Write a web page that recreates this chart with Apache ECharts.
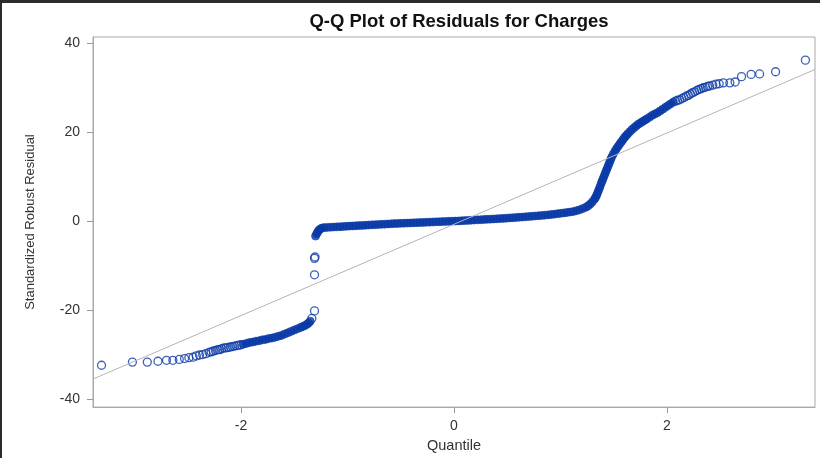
<!DOCTYPE html>
<html>
<head>
<meta charset="utf-8">
<script src="https://cdn.jsdelivr.net/npm/echarts@6/dist/echarts.min.js"></script>
<style>
  html, body { margin: 0; padding: 0; background: #fff; }
  #chart { width: 820px; height: 458px; }
</style>
</head>
<body>
<div id="chart"></div>
<script>
// ---- Data: [normal quantile, standardized robust residual] ----
const leftTail = [
  [-3.31,-32.3],[-3.02,-31.6],[-2.88,-31.6],[-2.78,-31.4],[-2.70,-31.2],[-2.64,-31.2],
  [-2.58,-31.0],[-2.53,-30.8],[-2.49,-30.6],[-2.45,-30.5],[-2.42,-30.2],[-2.39,-30.0],
  [-2.36,-29.9],[-2.33,-29.7],[-2.30,-29.4],[-2.28,-29.3],[-2.26,-29.1],[-2.24,-29.0],
  [-2.22,-28.8],[-2.20,-28.8],[-2.18,-28.6],[-2.16,-28.4],[-2.14,-28.4],[-2.12,-28.3],
  [-2.10,-28.2],[-2.08,-28.1],[-2.06,-28.0],[-2.04,-27.9],[-2.02,-27.8],[-2.00,-27.7]
];
const lowerBranch = [
  [-1.98,-27.6],[-1.95,-27.4],[-1.92,-27.2],[-1.89,-27.1],[-1.86,-26.9],[-1.83,-26.8],
  [-1.80,-26.6],[-1.77,-26.5],[-1.74,-26.3],[-1.71,-26.2],[-1.68,-26.0],[-1.65,-25.8],
  [-1.62,-25.6],[-1.59,-25.3],[-1.56,-25.0],[-1.53,-24.7],[-1.50,-24.4],[-1.47,-24.1],
  [-1.44,-23.8],[-1.42,-23.6],[-1.40,-23.4],[-1.38,-23.1],[-1.365,-22.8],[-1.35,-22.4]
];
const lowerTop = [[-1.335,-21.8],[-1.31,-20.1]];
const jumpPoints = [[-1.31,-12.0],[-1.31,-8.3],[-1.305,-8.0]];
const centerBranch = [
  [-1.30,-3.3],[-1.29,-2.8],[-1.28,-2.4],[-1.27,-2.0],[-1.255,-1.7],[-1.24,-1.5],
  [-1.22,-1.4],[-1.19,-1.35],[-1.16,-1.3],[-1.13,-1.27],[-1.10,-1.23],[-1.07,-1.2],
  [-1.04,-1.15],[-1.01,-1.1],[-0.98,-1.06],[-0.95,-1.02],[-0.92,-0.98],[-0.89,-0.94],
  [-0.86,-0.9],[-0.83,-0.86],[-0.80,-0.82],[-0.77,-0.78],[-0.74,-0.74],[-0.71,-0.7],
  [-0.68,-0.66],[-0.65,-0.62],[-0.62,-0.58],[-0.59,-0.54],[-0.56,-0.5],[-0.53,-0.47],
  [-0.50,-0.44],[-0.47,-0.41],[-0.44,-0.38],[-0.41,-0.35],[-0.38,-0.32],[-0.35,-0.29],
  [-0.32,-0.26],[-0.29,-0.23],[-0.26,-0.2],[-0.23,-0.17],[-0.20,-0.14],[-0.17,-0.11],
  [-0.14,-0.08],[-0.11,-0.05],[-0.08,-0.02],[-0.05,0.01],[-0.02,0.04],[0.01,0.07],
  [0.04,0.1],[0.07,0.14],[0.10,0.18],[0.13,0.22],[0.16,0.26],[0.19,0.3],[0.22,0.34],
  [0.25,0.38],[0.28,0.42],[0.31,0.46],[0.34,0.5],[0.37,0.54],[0.40,0.58],[0.43,0.62],
  [0.46,0.67],[0.49,0.72],[0.52,0.77],[0.55,0.82],[0.58,0.87],[0.61,0.92],[0.64,0.97],
  [0.67,1.02],[0.70,1.08],[0.73,1.14],[0.76,1.2],[0.79,1.26],[0.82,1.32],[0.85,1.39],
  [0.88,1.46],[0.91,1.54],[0.94,1.62],[0.97,1.71],[1.00,1.8],[1.03,1.9],[1.06,2.0],
  [1.09,2.1],[1.12,2.2],[1.15,2.4],[1.18,2.6],[1.21,2.9],[1.24,3.2],[1.26,3.5],
  [1.28,3.9],[1.30,4.4],[1.32,5.0]
];
const risingBranch = [
  [1.33,5.4],[1.34,5.9],[1.35,6.5],[1.36,7.1],[1.37,7.7],[1.38,8.4],[1.39,9.0],
  [1.40,9.6],[1.41,10.2],[1.42,10.8],[1.43,11.4],[1.44,12.0],[1.45,12.6],[1.46,13.2],
  [1.47,13.8],[1.48,14.4],[1.495,15.1],[1.51,15.7],[1.525,16.3],[1.54,16.8],[1.555,17.3],
  [1.57,17.8],[1.585,18.3],[1.60,18.8],[1.615,19.2],[1.63,19.6],[1.65,20.1],[1.67,20.6],
  [1.69,21.0],[1.71,21.4],[1.73,21.8],[1.75,22.1],[1.77,22.4],[1.79,22.7],[1.81,23.0],
  [1.835,23.4],[1.86,23.8],[1.885,24.1],[1.91,24.4],[1.935,24.8],[1.96,25.2],[1.985,25.6],
  [2.01,26.0],[2.035,26.4],[2.06,26.8]
];
const rightTail = [
  [2.08,27.0],[2.10,27.2],[2.12,27.3],[2.14,27.6],[2.16,27.8],[2.18,28.1],[2.20,28.3],
  [2.22,28.6],[2.24,28.9],[2.26,29.1],[2.28,29.4],[2.30,29.6],[2.32,29.8],[2.34,30.0],
  [2.36,30.1],[2.38,30.3],[2.40,30.4],[2.43,30.6],[2.46,30.8],[2.49,30.9],[2.53,31.1],
  [2.59,31.1],[2.64,31.3],[2.70,32.5],[2.79,33.0],[2.87,33.1],[3.02,33.6],[3.30,36.2]
];
const refLine = [[-3.39,-35.4],[3.39,34.1]];
const xTicks = [-2, 0, 2];
const yTicks = [-40, -20, 0, 20, 40];

// ---- Chart ----
const BLUE = '#0a39a6';
const chart = echarts.init(document.getElementById('chart'), null, { renderer: 'canvas' });
const sparse = leftTail.concat(lowerTop, jumpPoints, rightTail);
const dense = lowerBranch.concat(centerBranch, risingBranch);

chart.setOption({
  animation: false,
  backgroundColor: '#fff',
  title: {
    text: 'Q-Q Plot of Residuals for Charges',
    left: 454, top: 7, textAlign: 'center',
    textStyle: { fontFamily: 'Liberation Sans', fontWeight: 'bold', fontSize: 18.5, color: '#111' }
  },
  grid: { left: 93, right: 5, top: 37, bottom: 48, show: true, borderColor: '#a9a9a9', borderWidth: 1, backgroundColor: '#fff' },
  xAxis: {
    type: 'value', min: -3.39, max: 3.39,
    name: 'Quantile', nameLocation: 'middle', nameGap: 30,
    nameTextStyle: { fontFamily: 'Liberation Sans', fontSize: 14.5, color: '#333' },
    axisLine: { show: true, onZero: false, lineStyle: { color: '#a9a9a9' } },
    axisTick: { show: true, inside: false, length: 6, customValues: xTicks, lineStyle: { color: '#999' } },
    axisLabel: { customValues: xTicks, margin: 12, fontFamily: 'Liberation Sans', fontSize: 14, color: '#333' },
    splitLine: { show: false }
  },
  yAxis: {
    type: 'value', min: -41.7, max: 41.4,
    name: 'Standardized Robust Residual', nameLocation: 'middle', nameGap: 56,
    nameTextStyle: { fontFamily: 'Liberation Sans', fontSize: 13, color: '#333' },
    axisLine: { show: true, onZero: false, lineStyle: { color: '#a9a9a9' } },
    axisTick: { show: true, inside: false, length: 6, customValues: yTicks, lineStyle: { color: '#999' } },
    axisLabel: { customValues: yTicks, margin: 13, fontFamily: 'Liberation Sans', fontSize: 14, color: '#333' },
    splitLine: { show: false }
  },
  graphic: [
    { type: 'rect', shape: { x: 0, y: 0, width: 820, height: 3 }, style: { fill: '#2b2b2b' }, silent: true },
    { type: 'rect', shape: { x: 0, y: 0, width: 2, height: 458 }, style: { fill: '#2b2b2b' }, silent: true }
  ],
  series: [
    {
      name: 'dense', type: 'scatter', data: dense, symbol: 'circle', symbolSize: 8,
      itemStyle: { color: BLUE, borderColor: BLUE, borderWidth: 0.8 }, z: 2
    },
    {
      name: 'sparse', type: 'scatter', data: sparse, symbol: 'circle', symbolSize: 8,
      itemStyle: { color: 'rgba(0,0,0,0)', borderColor: BLUE, borderWidth: 1.3 }, z: 2
    },
    {
      name: 'reference', type: 'line', data: refLine, symbol: 'none', silent: true,
      lineStyle: { color: '#b5b5b5', width: 1 }, z: 3
    }
  ]
});
</script>
</body>
</html>
